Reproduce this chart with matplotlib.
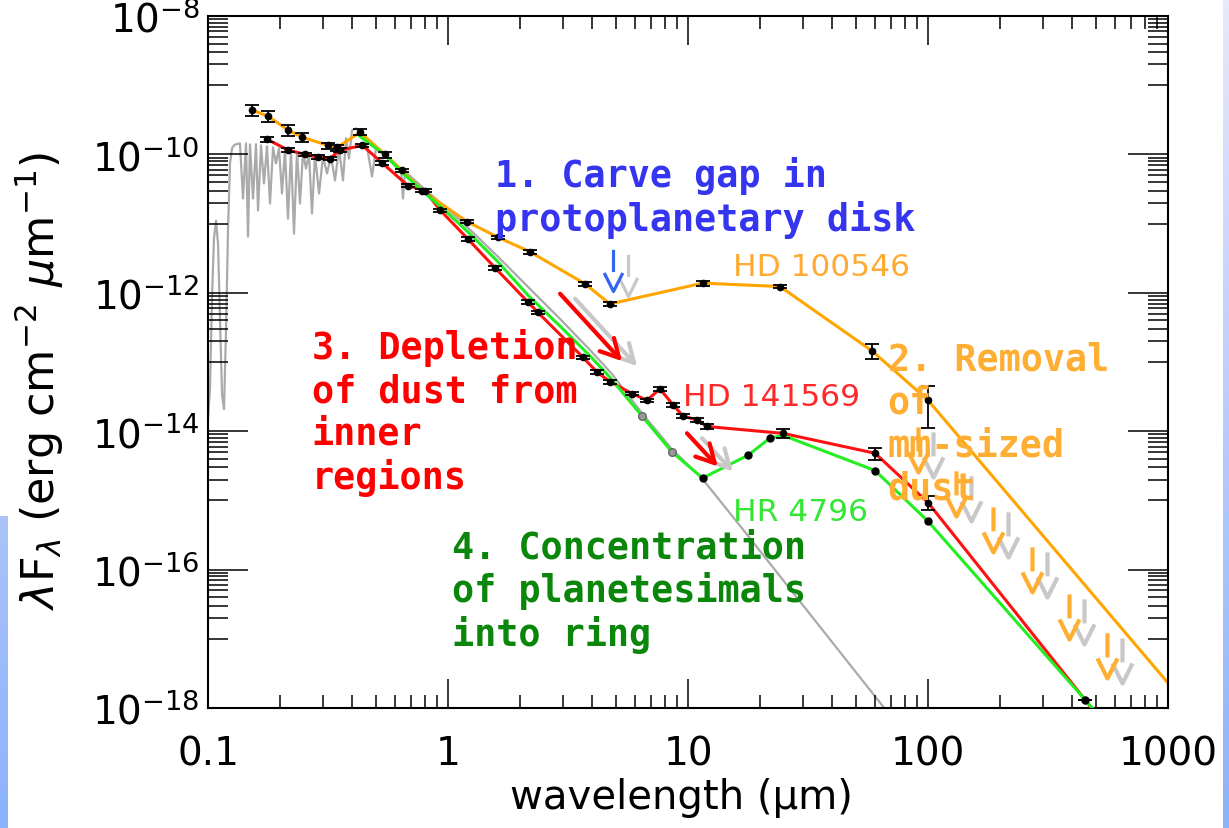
import numpy as np
import matplotlib
matplotlib.use("Agg")
import matplotlib.pyplot as plt
from matplotlib.path import Path
from matplotlib.transforms import ScaledTranslation
from matplotlib.ticker import FixedLocator, NullFormatter, FuncFormatter, LogLocator

# ---- data (wavelength in micron, lambda*F_lambda in erg cm^-2 s^-1) ----

# HD 100546 photometry
hd100546_wl = [0.153, 0.178, 0.216, 0.246, 0.316, 0.345, 0.430, 0.546, 0.643, 0.780,
               1.20, 1.62, 2.20, 3.72, 4.73, 11.5, 24.2, 58.4, 100.0]
hd100546_f = [4.37e-10, 3.55e-10, 2.24e-10, 1.78e-10, 1.35e-10, 1.26e-10, 2.09e-10, 1.00e-10,
              5.9e-11, 3.0e-11, 1.07e-11, 6.3e-12, 3.9e-12, 1.35e-12, 6.9e-13, 1.38e-12,
              1.23e-12, 1.45e-13, 2.8e-14]
hd100546_err = [0.18, 0.18, 0.18, 0.15, 0.10, 0.10, 0.10, 0.10, 0.06, 0.06, 0.06, 0.06,
                0.06, 0.06, 0.06, 0.08, 0.06, 0.25, 0.60]
hd100546_tail_wl = [1000.0]
hd100546_tail_f = [2.3e-18]

# HD 141569 photometry
hd141569_wl = [0.176, 0.216, 0.254, 0.287, 0.322, 0.355, 0.440, 0.530, 0.680, 0.800, 0.930,
               1.21, 1.57, 2.15, 2.37, 3.65, 4.17, 4.73, 5.84, 6.75, 7.64, 8.66, 9.53, 10.9,
               12.0, 24.9, 60.2, 100.0, 451.0]
hd141569_f = [1.66e-10, 1.15e-10, 1.00e-10, 9.1e-11, 8.7e-11, 1.15e-10, 1.35e-10, 7.6e-11,
              3.55e-11, 3.0e-11, 1.55e-11, 6.0e-12, 2.3e-12, 7.4e-13, 5.2e-13, 1.17e-13,
              7.2e-14, 5.2e-14, 3.5e-14, 2.8e-14, 4.1e-14, 2.4e-14, 1.66e-14, 1.45e-14,
              1.17e-14, 9.3e-15, 4.8e-15, 9.3e-16, 1.32e-18]
hd141569_err = [0.08, 0.06, 0.06, 0.06, 0.06, 0.06, 0.06, 0.06, 0.06, 0.06, 0.06,
                0.06, 0.06, 0.06, 0.06, 0.06, 0.06, 0.06, 0.06, 0.06, 0.06, 0.06, 0.06, 0.06,
                0.08, 0.15, 0.20, 0.23, 0.0]
hd141569_tail_wl = [600.0]
hd141569_tail_f = [3.8e-19]

# HR 4796 SED
hr4796_wl = [0.430, 0.546, 0.643, 0.780, 0.970, 1.23, 1.60, 2.15, 2.93, 3.90, 4.73, 6.43,
             8.58, 11.5, 17.8, 21.9, 24.9, 60.2, 100.0, 451.0, 600.0]
hr4796_f = [1.82e-10, 9.8e-11, 5.5e-11, 3.0e-11, 1.55e-11, 7.2e-12, 2.9e-12, 9.3e-13, 3.3e-13,
            1.23e-13, 6.0e-14, 1.66e-14, 5.0e-15, 2.1e-15, 4.5e-15, 7.9e-15, 8.7e-15, 2.7e-15,
            5.0e-16, 1.32e-18, 4.3e-19]
hr4796_det_wl = [11.5, 17.8, 21.9, 60.2, 100.0, 451.0]
hr4796_det_f = [2.1e-15, 4.5e-15, 7.9e-15, 2.7e-15, 5.0e-16, 1.32e-18]
hr4796_phot_wl = [6.43, 8.58]
hr4796_phot_f = [1.66e-14, 5.0e-15]

# stellar photosphere model
star_wl = [0.100, 0.1019, 0.1039, 0.1059, 0.1080, 0.1101, 0.1122, 0.1144, 0.1166, 0.1189,
           0.1212, 0.1235, 0.1259, 0.1283, 0.1308, 0.1359, 0.1399, 0.1440, 0.1468, 0.1496,
           0.1540, 0.1585, 0.1616, 0.1663, 0.1711, 0.1761, 0.1813, 0.1866, 0.1920, 0.1976,
           0.2034, 0.2093, 0.2154, 0.2217, 0.2282, 0.2349, 0.2417, 0.2488, 0.2560, 0.2635,
           0.2712, 0.2791, 0.2901, 0.3014, 0.3132, 0.3255, 0.3382, 0.3514, 0.3652, 0.3758,
           0.3868, 0.3981, 0.4137, 0.4299, 0.4553, 0.4823, 0.5012, 0.5462, 0.6371, 0.6494,
           0.6619, 0.8021, 1.000, 1.235, 1.647, 2.196, 2.929, 3.905, 4.824, 6.433, 8.577,
           11.44, 16.95, 66.2, 76.4]
star_f = [1.49e-14, 4.06e-14, 8.19e-13, 6.07e-12, 1.10e-11, 5.13e-12, 4.20e-13, 3.43e-14,
          2.08e-14, 3.01e-13, 8.47e-12, 7.41e-11, 1.22e-10, 1.35e-10, 1.40e-10, 1.44e-10,
          2.30e-11, 1.44e-10, 6.49e-12, 1.40e-10, 2.30e-11, 1.40e-10, 1.54e-11, 1.35e-10,
          3.80e-11, 1.31e-10, 1.95e-11, 1.26e-10, 7.41e-11, 1.22e-10, 2.72e-11, 1.18e-10,
          1.18e-11, 1.14e-10, 7.16e-12, 1.10e-10, 1.95e-11, 1.07e-10, 6.27e-11, 1.03e-10,
          1.40e-11, 1.00e-10, 2.72e-11, 9.35e-11, 5.31e-11, 9.35e-11, 4.20e-11, 1.22e-10,
          4.20e-11, 1.71e-10, 8.75e-11, 2.23e-10, 2.38e-10, 2.09e-10, 1.60e-10, 4.80e-11,
          1.22e-10, 1.00e-10, 6.07e-11, 2.30e-11, 5.68e-11, 3.11e-11, 1.60e-11, 8.18e-12,
          3.11e-12, 1.14e-12, 4.20e-13, 1.49e-13, 6.70e-14, 1.82e-14, 5.48e-15, 2.08e-15,
          3.80e-16, 9.68e-19, 5.13e-19]

# upper limits (mm-sized dust removal) and gap pointer
ulim_wl = [90.8, 130.8, 186.6, 271.0, 386.8, 556.6]
ulim_f = [2.6e-15, 5.9e-16, 1.8e-16, 4.8e-17, 9.8e-18, 2.7e-18]
gap_wl = [4.87]
gap_f = [1.07e-12]

# depletion arrows: (start, end)
depl_arrows = [((2.93, 9.7e-13), (5.31, 1.03e-13)),
               ((9.9, 9.35e-15), (13.3, 3.1e-15))]

y_major = [1e-18, 1e-16, 1e-14, 1e-12, 1e-10, 1e-8]
x_major = [0.1, 1, 10, 100, 1000]

# ---- figure ----
fig = plt.figure(figsize=(12.29, 8.29), dpi=100)
ax = fig.add_axes([208 / 1229, 1 - 709 / 829, 960 / 1229, 692 / 829])

c_orange = '#ffa500'
c_red = '#ff1010'
c_green = '#22ee22'
c_gray = '#aaaaaa'
c_shadow = '#c8c8c8'

ax.plot(star_wl, star_f, color=c_gray, lw=1.6, zorder=1)
ax.plot(hd100546_wl + hd100546_tail_wl, hd100546_f + hd100546_tail_f, color=c_orange, lw=2.2, zorder=2)
ax.plot(hd141569_wl + hd141569_tail_wl, hd141569_f + hd141569_tail_f, color=c_red, lw=2.2, zorder=3)
ax.plot(hr4796_wl, hr4796_f, color=c_green, lw=2.2, zorder=4)

for wl, f, e in [(hd100546_wl, hd100546_f, hd100546_err), (hd141569_wl, hd141569_f, hd141569_err)]:
    f = np.array(f)
    ax.errorbar(wl, f, yerr=f * np.array(e), fmt='o', color='k', ms=4.5,
                elinewidth=1.3, capsize=5, capthick=1.3, zorder=5)
ax.plot(hr4796_det_wl, hr4796_det_f, 'o', color='k', ms=5, zorder=5)
ax.plot(hr4796_phot_wl, hr4796_phot_f, 'o', mfc='#999999', mec='#666666', ms=5.5, zorder=5)

# down-arrow glyph: V with a bar above it, tip at the data point
arrow_path = Path([(-1, 2), (0, 0), (1, 2), (0, 2.1), (0, 4.5)],
                  [Path.MOVETO, Path.LINETO, Path.LINETO, Path.MOVETO, Path.LINETO])
shadow = ax.transData + ScaledTranslation(0.15, -0.05, fig.dpi_scale_trans)

ax.plot(ulim_wl, ulim_f, ls='none', marker=arrow_path, ms=65, mfc='none', mec=c_shadow,
        mew=3.0, transform=shadow, zorder=6)
ax.plot(ulim_wl, ulim_f, ls='none', marker=arrow_path, ms=65, mfc='none', mec='#ffae34',
        mew=3.0, zorder=7)
ax.plot(gap_wl, gap_f, ls='none', marker=arrow_path, ms=60, mfc='none', mec=c_shadow,
        mew=2.3, transform=shadow, zorder=6)
ax.plot(gap_wl, gap_f, ls='none', marker=arrow_path, ms=60, mfc='none', mec='#3366ee',
        mew=2.3, zorder=7)

for (x0, y0), (x1, y1) in depl_arrows:
    ax.annotate('', xy=(x1, y1), xytext=(x0, y0), xycoords=shadow, textcoords=shadow,
                arrowprops=dict(arrowstyle='->,head_length=13,head_width=7', mutation_scale=1,
                                color=c_shadow, lw=3, shrinkA=0, shrinkB=0), zorder=6)
    ax.annotate('', xy=(x1, y1), xytext=(x0, y0),
                arrowprops=dict(arrowstyle='->,head_length=13,head_width=7', mutation_scale=1,
                                color='#ff0000', lw=3, shrinkA=0, shrinkB=0), zorder=7)

# ---- text (y is the baseline of the last line) ----
mono = dict(family='DejaVu Sans Mono', weight='bold', size=26.5, ha='left', va='baseline',
            linespacing=1.2, transform=ax.transAxes, zorder=10)
ax.text(0.299, 0.691, '1. Carve gap in\nprotoplanetary disk', color='#3535f0', **mono)
ax.text(0.108, 0.318, '3. Depletion\nof dust from\ninner\nregions', color='#ff0000', **mono)
ax.text(0.708, 0.303, '2. Removal\nof\nmm-sized\ndust', color='#ffae34', **mono)
ax.text(0.254, 0.091, '4. Concentration\nof planetesimals\ninto ring', color='#0a870a', **mono)

lab = dict(size=22.5, ha='left', va='baseline', transform=ax.transAxes, zorder=10)
ax.text(0.547, 0.626, 'HD 100546', color='#ffaa33', **lab)
ax.text(0.495, 0.438, 'HD 141569', color='#ff2828', **lab)
ax.text(0.547, 0.272, 'HR 4796', color='#33e633', **lab)

# ---- axes ----
ax.set_xscale('log')
ax.set_yscale('log')
ax.set_xlim(0.1, 1000)
ax.set_ylim(1e-18, 1e-8)

ax.xaxis.set_major_locator(FixedLocator(x_major))
ax.xaxis.set_minor_locator(LogLocator(base=10, subs=range(2, 10)))
ax.xaxis.set_minor_formatter(NullFormatter())
ax.xaxis.set_major_formatter(FuncFormatter(lambda v, p: '%g' % v))

y_minor = [k * 10.0 ** e for e in (-17, -15, -13, -11, -9) for k in range(1, 10)]
ax.yaxis.set_major_locator(FixedLocator(y_major))
ax.yaxis.set_minor_locator(FixedLocator(y_minor))
ax.yaxis.set_minor_formatter(NullFormatter())
ax.yaxis.set_major_formatter(FuncFormatter(lambda v, p: r'$10^{%d}$' % int(round(np.log10(v)))))

ax.tick_params(which='both', direction='in', top=True, right=True, width=1.1, colors='k')
ax.tick_params(axis='x', which='major', length=21, pad=19, labelsize=28)
ax.tick_params(axis='x', which='minor', length=9.5)
ax.tick_params(axis='y', which='major', length=29, pad=6, labelsize=28)
ax.tick_params(axis='y', which='minor', length=14.5)
for s in ax.spines.values():
    s.set_linewidth(1.5)

ax.set_xlabel('wavelength (μm)', size=29)
ax.xaxis.set_label_coords(0.493, -0.1)
ax.set_ylabel(r'$\lambda$F$_\lambda$ (erg cm$^{-2}$ $\mu$m$^{-1}$)', size=32)
ax.yaxis.set_label_coords(-0.148, 0.474)

# slide edge strips
grad = np.linspace(0, 1, 100).reshape(-1, 1)
left = fig.add_axes([0, 0, 8 / 1229, 312 / 829])
left.imshow(grad, aspect='auto', cmap=matplotlib.colors.LinearSegmentedColormap.from_list(
    'l', ['#abc3f8', '#8cb2fe']))
left.axis('off')
right = fig.add_axes([1223 / 1229, 0, 6 / 1229, 1])
right.imshow(grad, aspect='auto', cmap=matplotlib.colors.LinearSegmentedColormap.from_list(
    'r', ['#e6e8fc', '#8cb2fe']))
right.axis('off')

fig.savefig('out.png', dpi=100)
